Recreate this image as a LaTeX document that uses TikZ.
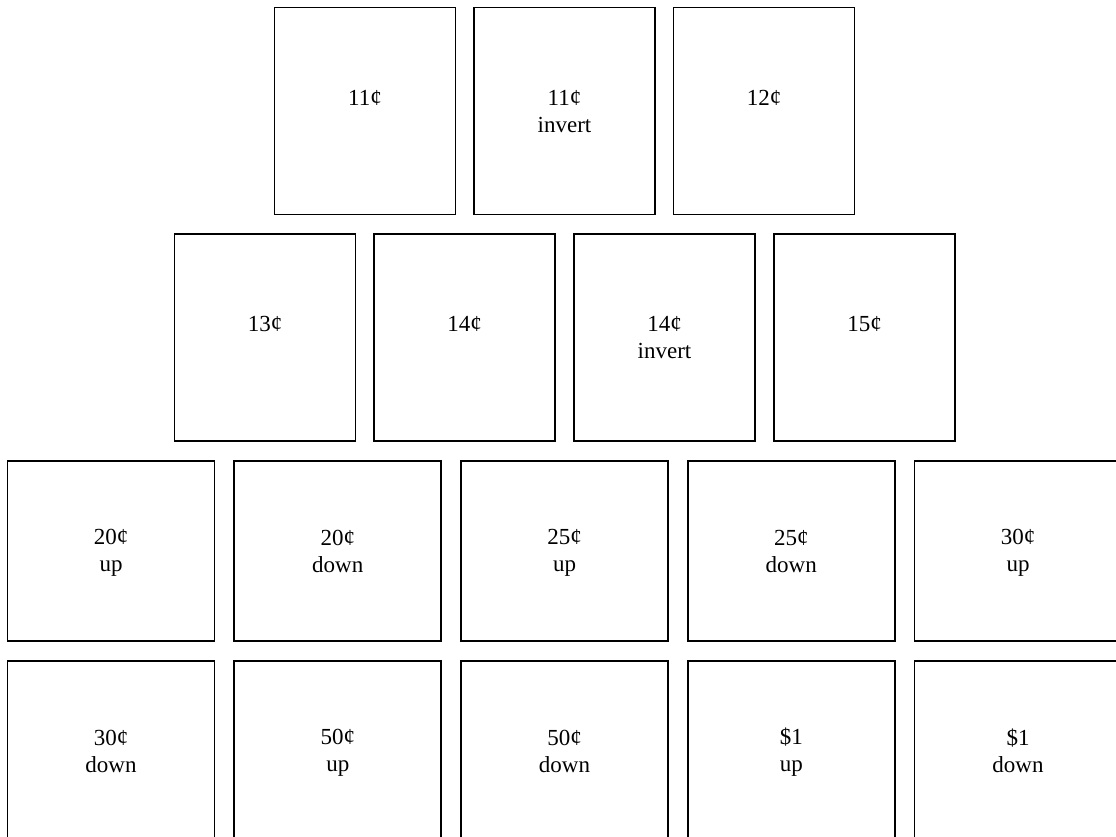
\documentclass[tikz,border=0pt]{standalone}
\usepackage{fontspec}
\setmainfont{Liberation Serif}
\newcommand\topstrut{\rule[-8pt]{0pt}{27pt}}
\newcommand\botstrut{\rule[-4pt]{0pt}{20pt}}
\begin{document}
\begin{tikzpicture}[x=1pt,y=-1pt,
  bigbox/.style={draw=black, line width=1.6pt, minimum width=181pt, minimum height=207pt, inner sep=0pt, align=center, font=\fontsize{23}{27}\selectfont},
  widebox/.style={draw=black, line width=1.6pt, minimum width=207pt, minimum height=180pt, inner sep=0pt, align=center, font=\fontsize{23}{27}\selectfont}]
\useasboundingbox (0,0) rectangle (1116,836);
\clip (0,0) rectangle (1116,836);
% row 1
\node[bigbox] (c11) at (365,111) {\topstrut 11¢\\\botstrut};
\node[bigbox] (c11i) at (564.5,111) {\topstrut 11¢\\\botstrut invert};
\node[bigbox] (c12) at (764,111) {\topstrut 12¢\\\botstrut};
% row 2
\node[bigbox] (c13) at (265,337.5) {\topstrut 13¢\\\botstrut};
\node[bigbox] (c14) at (464.5,337.5) {\topstrut 14¢\\\botstrut};
\node[bigbox] (c14i) at (664.5,337.5) {\topstrut 14¢\\\botstrut invert};
\node[bigbox] (c15) at (864.5,337.5) {\topstrut 15¢\\\botstrut};
% row 3
\node[widebox] (c20u) at (111,551) {\topstrut 20¢\\\botstrut up};
\node[widebox] (c20d) at (337.75,551) {\topstrut 20¢\\\botstrut down};
\node[widebox] (c25u) at (564.5,551) {\topstrut 25¢\\\botstrut up};
\node[widebox] (c25d) at (791.25,551) {\topstrut 25¢\\\botstrut down};
\node[widebox] (c30u) at (1018,551) {\topstrut 30¢\\\botstrut up};
% row 4
\node[widebox] (c30d) at (111,751) {\topstrut 30¢\\\botstrut down};
\node[widebox] (c50u) at (337.75,751) {\topstrut 50¢\\\botstrut up};
\node[widebox] (c50d) at (564.5,751) {\topstrut 50¢\\\botstrut down};
\node[widebox] (d1u) at (791.25,751) {\topstrut \$1\\\botstrut up};
\node[widebox] (d1d) at (1018,751) {\topstrut \$1\\\botstrut down};
\end{tikzpicture}
\end{document}
